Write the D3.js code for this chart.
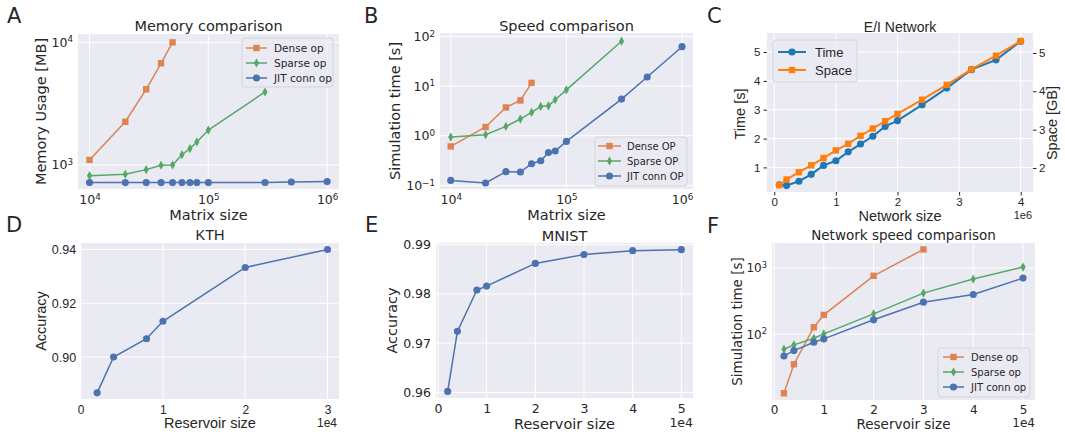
<!DOCTYPE html>
<html lang="en">
<head>
<meta charset="utf-8">
<title>Benchmarks</title>
<script src="https://cdn.jsdelivr.net/npm/d3@7"></script>
<style>
html, body { margin: 0; background-color: white; }
svg { display: block; }
</style>
</head>
<body>
<script>
var w = 1065;
var h = 432;

// A + B: matrix sizes
var matSize = [1e4, 2e4, 3e4, 4e4, 5e4, 6e4, 7e4, 8e4, 1e5, 3e5, 5e5, 1e6];
var memDense = [1100, 2250, 4140, 6750, 10000];
var memSparse = [818, 840, 916, 995, 1000, 1213, 1359, 1539, 1927, 3936];
var memJit = [718, 718, 718, 718, 718, 718, 718, 718, 718, 720, 727, 732];
var speedDense = [0.61, 1.50, 3.71, 5.13, 11.6];
var speedSparse = [0.94, 1.05, 1.54, 2.17, 2.94, 3.89, 4.0, 5.3, 8.4, 80];
var speedJit = [0.126, 0.112, 0.189, 0.186, 0.273, 0.314, 0.461, 0.492, 0.768, 5.47, 15.2, 62];

// C: E/I network
var netSize = [8e4, 2e5, 4e5, 6e5, 8e5, 1e6, 1.2e6, 1.4e6, 1.6e6, 1.8e6, 2e6, 2.4e6, 2.8e6, 3.2e6, 3.6e6, 4e6];
var eiTime = [0.40, 0.37, 0.52, 0.76, 1.07, 1.23, 1.54, 1.81, 2.08, 2.42, 2.62, 3.17, 3.75, 4.39, 4.73, 5.37];
var eiSpace = [1.55, 1.70, 1.89, 2.07, 2.26, 2.46, 2.63, 2.84, 3.03, 3.22, 3.41, 3.78, 4.17, 4.57, 4.93, 5.31];

// D, E, F: reservoir sizes
var resSize = [2000, 4000, 8000, 10000, 20000, 30000, 40000, 50000];
var kthAcc = [0.8867, 0.9000, 0.9068, 0.9133, 0.9333, 0.9400];
var mnistAcc = [0.9602, 0.9724, 0.9808, 0.9816, 0.9862, 0.9880, 0.9888, 0.9890];
var netDense = [12.8, 35.1, 127.6, 196, 764, 1914];
var netSparse = [59.3, 68.9, 86.9, 101, 203, 418, 681, 1036];
var netJit = [46.9, 56.5, 75.7, 84.9, 165, 305, 398, 705];

var legendAB = ["Dense op", "Sparse op", "JIT conn op"];
var legendB = ["Dense OP", "Sparse OP", "JIT conn OP"];
var legendC = ["Time", "Space"];

var cDense = "#dd8452", cSparse = "#55a868", cJit = "#4c72b0";
var cTime = "#1f77b4", cSpace = "#ff7f0e";
var ink = "#262626";
var dv = "DejaVu Sans", lib = "Liberation Sans";

var shapes = {
	square: "M-3.2,-3.2H3.2V3.2H-3.2Z",
	diamond: "M0,-4.6L2.6,0L0,4.6L-2.6,0Z",
	circle: d3.symbol().type(d3.symbolCircle).size(40)()
};

var svg = d3.select("body")
			.append("svg")
			.attr("width", w)
			.attr("height", h);

function background(r) {
	svg.append("rect")
		.attr("x", r[0]).attr("y", r[2])
		.attr("width", r[1] - r[0]).attr("height", r[3] - r[2])
		.attr("fill", "#eaeaf2");
}

// white grid lines at the major ticks
function grid(r, x, y, xt, yt) {
	var g = svg.append("g");
	g.selectAll("line.gx").data(xt).enter().append("line")
		.attr("x1", function(d) { return x(d); }).attr("x2", function(d) { return x(d); })
		.attr("y1", r[2]).attr("y2", r[3])
		.attr("stroke", "white").attr("stroke-width", 1);
	g.selectAll("line.gy").data(yt).enter().append("line")
		.attr("y1", function(d) { return y(d); }).attr("y2", function(d) { return y(d); })
		.attr("x1", r[0]).attr("x2", r[1])
		.attr("stroke", "white").attr("stroke-width", 1);
}

function styleAxis(g, font, size) {
	g.select(".domain").remove();
	g.selectAll(".tick line").attr("stroke", ink);
	g.selectAll("text").attr("font-family", font).attr("font-size", size).attr("fill", ink);
}

// 10^n tick labels
function powerLabels(g) {
	g.selectAll(".tick text").each(function(d) {
		var t = d3.select(this);
		var e = Math.round(Math.log10(d));
		t.text("10");
		t.append("tspan").attr("dy", "-0.5em").attr("font-size", "0.7em")
			.text(e < 0 ? "\u2212" + (-e) : e);
	});
}

function series(xs, ys, x, y, color, shape, width) {
	var line = d3.line()
				.x(function(d, i) { return x(xs[i]); })
				.y(function(d) { return y(d); });
	svg.append("path").datum(ys)
		.attr("d", line)
		.attr("fill", "none")
		.attr("stroke", color)
		.attr("stroke-width", width || 1.5);
	svg.append("g").selectAll("path").data(ys).enter().append("path")
		.attr("transform", function(d, i) { return "translate(" + x(xs[i]) + "," + y(d) + ")"; })
		.attr("d", shapes[shape])
		.attr("fill", color);
}

function legend(box, rows, names, colors, marks, lx0, lx1, tx, font, size, width) {
	var g = svg.append("g");
	g.append("rect")
		.attr("x", box[0]).attr("y", box[1])
		.attr("width", box[2] - box[0]).attr("height", box[3] - box[1])
		.attr("rx", 3)
		.attr("fill", "#eaeaf2").attr("fill-opacity", 0.8)
		.attr("stroke", "#d4d4d8").attr("stroke-width", 1);
	names.forEach(function(n, i) {
		g.append("line")
			.attr("x1", lx0).attr("x2", lx1).attr("y1", rows[i]).attr("y2", rows[i])
			.attr("stroke", colors[i]).attr("stroke-width", width || 1.5);
		g.append("path")
			.attr("transform", "translate(" + ((lx0 + lx1) / 2) + "," + rows[i] + ")")
			.attr("d", shapes[marks[i]]).attr("fill", colors[i]);
		g.append("text")
			.attr("x", tx).attr("y", rows[i]).attr("dy", "0.35em")
			.attr("font-family", font).attr("font-size", size).attr("fill", ink)
			.text(n);
	});
}

function label(txt, x, y, font, size, rotate, anchor) {
	var t = svg.append("text")
		.attr("font-family", font).attr("font-size", size).attr("fill", ink)
		.attr("text-anchor", anchor || "middle")
		.text(txt);
	if (rotate) t.attr("transform", "translate(" + x + "," + y + ") rotate(-90)");
	else t.attr("x", x).attr("y", y);
}

// ---------- A: memory ----------
var rA = [78, 339, 34, 189];
var xA = d3.scaleLog().domain([Math.pow(10, 3.903), Math.pow(10, 6.1)]).range([rA[0], rA[1]]);
var yA = d3.scaleLog().domain([Math.pow(10, 2.804), Math.pow(10, 4.068)]).range([rA[3], rA[2]]);
background(rA);
grid(rA, xA, yA, [1e4, 1e5, 1e6], [1e3, 1e4]);
var axA = svg.append("g").attr("transform", "translate(0," + rA[3] + ")")
	.call(d3.axisBottom(xA).tickValues([1e4, 1e5, 1e6]).tickSize(0).tickPadding(6));
styleAxis(axA, dv, 12.5); powerLabels(axA);
var ayA = svg.append("g").attr("transform", "translate(" + rA[0] + ",0)")
	.call(d3.axisLeft(yA).tickValues([1e3, 1e4]).tickSize(0).tickPadding(5));
styleAxis(ayA, dv, 12.5); powerLabels(ayA);
series(matSize, memDense, xA, yA, cDense, "square");
series(matSize, memSparse, xA, yA, cSparse, "diamond");
series(matSize, memJit, xA, yA, cJit, "circle");
legend([242, 38, 333, 87], [48, 63, 78], legendAB, [cDense, cSparse, cJit], ["square", "diamond", "circle"], 246, 267, 274, dv, 10.5);
label("Memory comparison", 208.5, 30.5, dv, 14.5);
label("Matrix size", 208.5, 219.5, dv, 14.5);
label("Memory Usage [MB]", 46, 111.5, dv, 14.5, true);

// ---------- B: speed ----------
var rB = [440, 693, 33, 189];
var xB = d3.scaleLog().domain([Math.pow(10, 3.907), Math.pow(10, 6.095)]).range([rB[0], rB[1]]);
var yB = d3.scaleLog().domain([Math.pow(10, -1.072), Math.pow(10, 2.068)]).range([rB[3], rB[2]]);
background(rB);
grid(rB, xB, yB, [1e4, 1e5, 1e6], [0.1, 1, 10, 100]);
var axB = svg.append("g").attr("transform", "translate(0," + rB[3] + ")")
	.call(d3.axisBottom(xB).tickValues([1e4, 1e5, 1e6]).tickSize(0).tickPadding(6));
styleAxis(axB, dv, 12.5); powerLabels(axB);
var ayB = svg.append("g").attr("transform", "translate(" + rB[0] + ",0)")
	.call(d3.axisLeft(yB).tickValues([0.1, 1, 10, 100]).tickSize(0).tickPadding(5));
styleAxis(ayB, dv, 12.5); powerLabels(ayB);
series(matSize, speedDense, xB, yB, cDense, "square");
series(matSize, speedSparse, xB, yB, cSparse, "diamond");
series(matSize, speedJit, xB, yB, cJit, "circle");
legend([595, 137, 687, 186], [146, 161, 176], legendB, [cDense, cSparse, cJit], ["square", "diamond", "circle"], 598, 621, 627, dv, 10);
label("Speed comparison", 566.5, 30.5, dv, 14.5);
label("Matrix size", 566.5, 219.5, dv, 14.5);
label("Simulation time [s]", 400, 111, dv, 14.5, true);

// ---------- C: E/I network ----------
var rC = [767, 1033, 33, 192];
var xC = d3.scaleLinear().domain([-0.118e6, 4.2e6]).range([rC[0], rC[1]]);
var yC = d3.scaleLinear().domain([0.147, 5.66]).range([rC[3], rC[2]]);
var y2C = d3.scaleLinear().domain([1.374, 5.52]).range([rC[3], rC[2]]);
background(rC);
grid(rC, xC, yC, [0, 1e6, 2e6, 3e6, 4e6], [1, 2, 3, 4, 5]);
var axC = svg.append("g").attr("transform", "translate(0," + rC[3] + ")")
	.call(d3.axisBottom(xC).tickValues([0, 1e6, 2e6, 3e6, 4e6]).tickFormat(function(d) { return d / 1e6; }).tickSize(3.5).tickPadding(2.5));
styleAxis(axC, lib, 11.5);
var ayC = svg.append("g").attr("transform", "translate(" + rC[0] + ",0)")
	.call(d3.axisLeft(yC).tickValues([1, 2, 3, 4, 5]).tickFormat(d3.format("d")).tickSize(3.5).tickPadding(3));
styleAxis(ayC, lib, 11.5);
var ay2C = svg.append("g").attr("transform", "translate(" + rC[1] + ",0)")
	.call(d3.axisRight(y2C).tickValues([2, 3, 4, 5]).tickFormat(d3.format("d")).tickSize(3.5).tickPadding(2.5));
styleAxis(ay2C, lib, 11.5);
series(netSize, eiTime, xC, yC, cTime, "circle", 2);
series(netSize, eiSpace, xC, y2C, cSpace, "square", 2);
legend([773, 40, 857, 82], [52, 70], legendC, [cTime, cSpace], ["circle", "square"], 778, 806, 815, lib, 13, 2);
label("E/I Network", 900, 31.5, lib, 14);
label("Network size", 900, 221, lib, 14.5);
label("1e6", 1032, 219, lib, 11, false, "end");
label("Time [s]", 745, 114, lib, 14.5, true);
label("Space [GB]", 1057, 123, lib, 14.5, true);

// ---------- D: KTH ----------
var rD = [80.7, 339, 243, 399];
var xD = d3.scaleLinear().domain([0, 3.14e4]).range([rD[0], rD[1]]);
var yD = d3.scaleLinear().domain([0.8844, 0.9424]).range([rD[3], rD[2]]);
background(rD);
grid(rD, xD, yD, [0, 1e4, 2e4, 3e4], [0.90, 0.92, 0.94]);
var axD = svg.append("g").attr("transform", "translate(0," + rD[3] + ")")
	.call(d3.axisBottom(xD).tickValues([0, 1e4, 2e4, 3e4]).tickFormat(function(d) { return d / 1e4; }).tickSize(0).tickPadding(6.5));
styleAxis(axD, lib, 12);
var ayD = svg.append("g").attr("transform", "translate(" + rD[0] + ",0)")
	.call(d3.axisLeft(yD).tickValues([0.90, 0.92, 0.94]).tickFormat(d3.format(".2f")).tickSize(0).tickPadding(4.5));
styleAxis(ayD, lib, 12.5);
series(resSize, kthAcc, xD, yD, cJit, "circle");
label("KTH", 210, 240, lib, 14.5);
label("Reservoir size", 210, 427.5, lib, 14.5);
label("1e4", 337, 427, lib, 12, false, "end");
label("Accuracy", 46, 321, lib, 14.5, true);

// ---------- E: MNIST ----------
var rE = [436, 693, 243, 398];
var xE = d3.scaleLinear().domain([-0.04e4, 5.24e4]).range([rE[0], rE[1]]);
var yE = d3.scaleLinear().domain([0.95886, 0.99035]).range([rE[3], rE[2]]);
background(rE);
grid(rE, xE, yE, [0, 1e4, 2e4, 3e4, 4e4, 5e4], [0.96, 0.97, 0.98, 0.99]);
var axE = svg.append("g").attr("transform", "translate(0," + rE[3] + ")")
	.call(d3.axisBottom(xE).tickValues([0, 1e4, 2e4, 3e4, 4e4, 5e4]).tickFormat(function(d) { return d / 1e4; }).tickSize(0).tickPadding(6));
styleAxis(axE, dv, 12.5);
var ayE = svg.append("g").attr("transform", "translate(" + rE[0] + ",0)")
	.call(d3.axisLeft(yE).tickValues([0.96, 0.97, 0.98, 0.99]).tickFormat(d3.format(".2f")).tickSize(0).tickPadding(5));
styleAxis(ayE, dv, 12.5);
series(resSize, mnistAcc, xE, yE, cJit, "circle");
label("MNIST", 564.5, 240.5, dv, 14.5);
label("Reservoir size", 564.5, 429, dv, 14.5);
label("1e4", 693, 427, dv, 12.5, false, "end");
label("Accuracy", 397.3, 320.5, dv, 14.5, true);

// ---------- F: network speed ----------
var rF = [772, 1035, 243, 400];
var xF = d3.scaleLinear().domain([-0.04e4, 5.24e4]).range([rF[0], rF[1]]);
var yF = d3.scaleLog().domain([Math.pow(10, 1.005), Math.pow(10, 3.379)]).range([rF[3], rF[2]]);
background(rF);
grid(rF, xF, yF, [0, 1e4, 2e4, 3e4, 4e4, 5e4], [100, 1000]);
var axF = svg.append("g").attr("transform", "translate(0," + rF[3] + ")")
	.call(d3.axisBottom(xF).tickValues([0, 1e4, 2e4, 3e4, 4e4, 5e4]).tickFormat(function(d) { return d / 1e4; }).tickSize(0).tickPadding(5.5));
styleAxis(axF, dv, 12);
var ayF = svg.append("g").attr("transform", "translate(" + rF[0] + ",0)")
	.call(d3.axisLeft(yF).tickValues([100, 1000]).tickSize(0).tickPadding(5));
styleAxis(ayF, dv, 12); powerLabels(ayF);
series(resSize, netDense, xF, yF, cDense, "square");
series(resSize, netSparse, xF, yF, cSparse, "diamond");
series(resSize, netJit, xF, yF, cJit, "circle");
legend([938, 348, 1030, 397], [357, 372, 387], legendAB, [cDense, cSparse, cJit], ["square", "diamond", "circle"], 943, 964, 971, dv, 10);
label("Network speed comparison", 903.5, 239.5, dv, 13.5);
label("Reservoir size", 903.5, 429, dv, 13.5);
label("1e4", 1035, 427, dv, 12, false, "end");
label("Simulation time [s]", 741.6, 321.5, dv, 13.5, true);

// panel letters
[["A", 7, 23], ["B", 364, 23], ["C", 707, 23], ["D", 6, 232], ["E", 365, 232], ["F", 707, 233]].forEach(function(p) {
	label(p[0], p[1], p[2], dv, 21, false, "start");
});
</script>
</body>
</html>
